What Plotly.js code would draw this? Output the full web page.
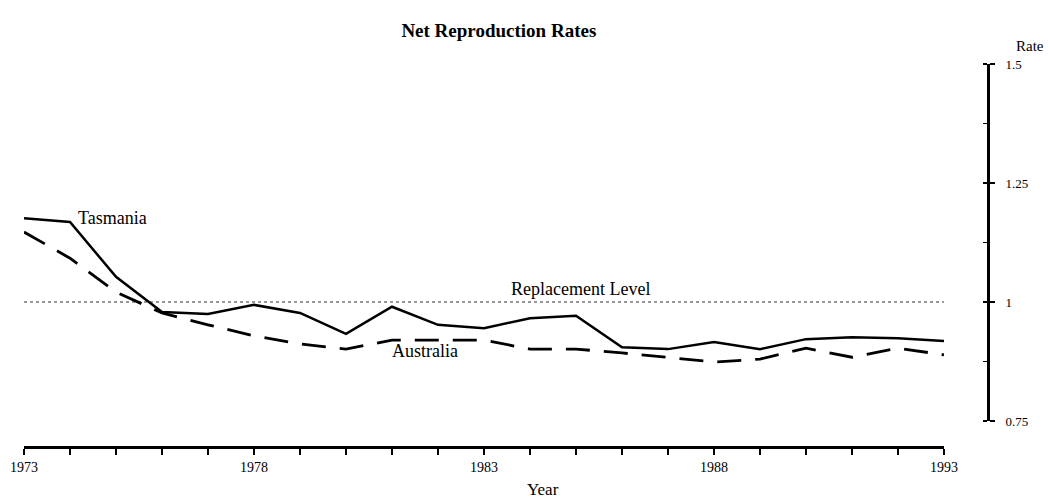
<!DOCTYPE html>
<html>
<head>
<meta charset="utf-8">
<script src="https://cdn.plot.ly/plotly-3.0.1.min.js"></script>
<style>html,body{margin:0;padding:0;background:#fff;}#chart{width:1048px;height:498px;}</style>
</head>
<body>
<div id="chart"></div>
<script>
const years = [1973,1974,1975,1976,1977,1978,1979,1980,1981,1982,1983,1984,1985,1986,1987,1988,1989,1990,1991,1992,1993];
const tasmania = [1.176,1.168,1.053,0.979,0.975,0.994,0.977,0.933,0.990,0.952,0.945,0.966,0.971,0.905,0.901,0.916,0.901,0.922,0.926,0.924,0.918];
const australia = [1.147,1.092,1.021,0.977,0.952,0.929,0.912,0.901,0.920,0.920,0.920,0.901,0.901,0.893,0.884,0.874,0.880,0.903,0.884,0.903,0.889];
const replacementLevel = 1.0;
const xLabelYears = [1973,1978,1983,1988,1993];
const yTickVals = [0.75,1,1.25,1.5];
const yTickText = ['0.75','1','1.25','1.5'];

const serif = 'Liberation Serif, Times New Roman, serif';

const traces = [
  {x: [years[0], years[years.length-1]], y: [replacementLevel, replacementLevel], mode: 'lines', name: 'Replacement Level',
   line: {color: '#333', width: 1.2, dash: 'dot'}, hoverinfo: 'skip'},
  {x: years, y: australia, mode: 'lines', name: 'Australia', line: {color: '#000', width: 2.8, dash: '24px,14px'}},
  {x: years, y: tasmania, mode: 'lines', name: 'Tasmania', line: {color: '#000', width: 2.5}}
];

const layout = {
  width: 1048, height: 498,
  margin: {l: 24, r: 60, t: 64, b: 51},
  paper_bgcolor: '#fff', plot_bgcolor: '#fff',
  showlegend: false,
  font: {family: serif, color: '#000', size: 13},
  title: {text: '<b>Net Reproduction Rates</b>', font: {family: serif, size: 19, color: '#000'},
          xref: 'container', x: 0.476, xanchor: 'center', yref: 'container', y: 0.94, yanchor: 'middle'},
  xaxis: {
    range: [1973, 1993], domain: [0, 920/964],
    anchor: 'free', position: 0,
    showgrid: false, zeroline: false,
    showline: true, linecolor: '#000', linewidth: 3,
    ticks: 'outside', ticklen: 6, tickwidth: 2, tickcolor: '#000',
    tickvals: years,
    ticktext: years.map(y => xLabelYears.includes(y) ? String(y) : ''),
    tickfont: {family: serif, size: 14, color: '#000'}
  },
  yaxis: {
    range: [0.75, 1.5], domain: [26/383, 1],
    side: 'right', anchor: 'free', position: 1,
    showgrid: false, zeroline: false,
    showline: true, linecolor: '#000', linewidth: 3,
    ticks: 'outside', ticklen: 5, tickwidth: 2, tickcolor: '#000',
    ticklabelstandoff: 8,
    tickvals: yTickVals, ticktext: yTickText,
    tickfont: {family: serif, size: 13, color: '#000'},
    minor: {dtick: 0.125, tick0: 0.75, ticks: 'inside', ticklen: 4, tickwidth: 1.5, tickcolor: '#000', showgrid: false}
  },
  annotations: [
    {text: 'Tasmania', x: 1974.13, y: 1.176, xref: 'x', yref: 'y', xanchor: 'left', yanchor: 'middle', showarrow: false,
     font: {family: serif, size: 18, color: '#000'}},
    {text: 'Replacement Level', x: 1985.09, y: 1.027, xref: 'x', yref: 'y', xanchor: 'center', yanchor: 'middle', showarrow: false,
     font: {family: serif, size: 18, color: '#000'}},
    {text: 'Australia', x: 1981.72, y: 0.897, xref: 'x', yref: 'y', xanchor: 'center', yanchor: 'middle', showarrow: false,
     font: {family: serif, size: 18, color: '#000'}},
    {text: 'Rate', x: 1.0436, y: 1.047, xref: 'paper', yref: 'paper', xanchor: 'center', yanchor: 'middle', showarrow: false,
     font: {family: serif, size: 15, color: '#000'}},
    {text: 'Year', x: 0.538, y: -0.1097, xref: 'paper', yref: 'paper', xanchor: 'center', yanchor: 'middle', showarrow: false,
     font: {family: serif, size: 17, color: '#000'}}
  ]
};

Plotly.newPlot('chart', traces, layout, {displayModeBar: false, staticPlot: true});
</script>
</body>
</html>
